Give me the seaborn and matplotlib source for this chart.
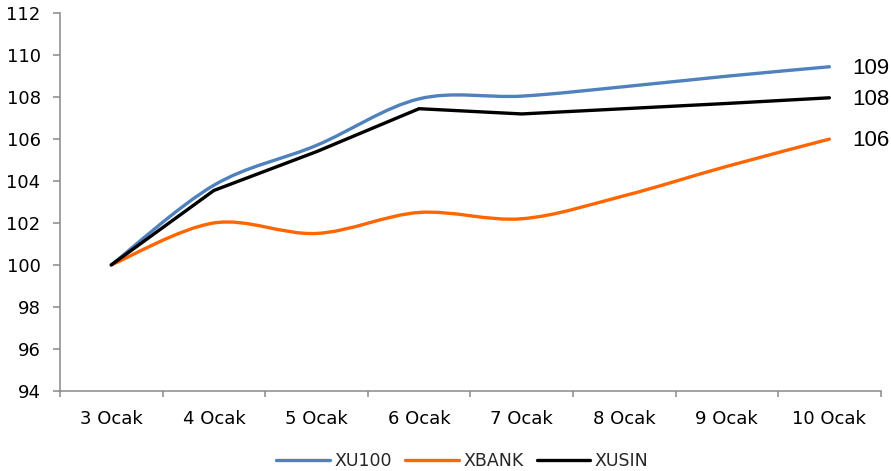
import numpy as np
import pandas as pd
import matplotlib
matplotlib.use("Agg")
import matplotlib.pyplot as plt
import seaborn as sns
from matplotlib.path import Path
from matplotlib.patches import PathPatch
from matplotlib.lines import Line2D

# ---- data ----
categories = ["3 Ocak", "4 Ocak", "5 Ocak", "6 Ocak", "7 Ocak", "8 Ocak", "9 Ocak", "10 Ocak"]
xu100 = [100.0, 103.8, 105.7, 107.92, 108.05, 108.5, 109.0, 109.45]
xbank = [100.0, 102.0, 101.5, 102.5, 102.2, 103.3, 104.7, 106.0]
xusin = [100.0, 103.55, 105.4, 107.45, 107.2, 107.45, 107.7, 107.97]
series_names = ["XU100", "XBANK", "XUSIN"]
y_ticks = [94, 96, 98, 100, 102, 104, 106, 108, 110, 112]

colors = {"XU100": "#4F81BD", "XBANK": "#FF6600", "XUSIN": "#000000"}
smoothed = {"XU100": True, "XBANK": True, "XUSIN": False}

sns.set_theme(style="white")
plt.rcParams['font.family'] = ['DejaVu Sans']

W, H = 891, 471
fig = plt.figure(figsize=(W / 100, H / 100), dpi=100)
ax = fig.add_axes([60 / W, 1 - 390.7 / H, (880.7 - 60) / W, (390.7 - 13.3) / H])

xpos = np.arange(len(categories))
df = pd.DataFrame({"x": xpos, "XU100": xu100, "XBANK": xbank, "XUSIN": xusin})
long = df.melt(id_vars="x", var_name="series", value_name="value")


def smooth_path(xs, ys):
    pts = np.column_stack([xs, ys]).astype(float)
    ext = np.vstack([pts[0], pts, pts[-1]])
    verts = [pts[0]]
    codes = [Path.MOVETO]
    for i in range(len(pts) - 1):
        p0, p1, p2, p3 = ext[i], ext[i + 1], ext[i + 2], ext[i + 3]
        c1 = p1 + (p2 - p0) / 6.0
        c2 = p2 - (p3 - p1) / 6.0
        verts += [c1, c2, p2]
        codes += [Path.CURVE4] * 3
    return Path(verts, codes)


LW = 2.4
for z, name in enumerate(series_names):
    sub = long[long["series"] == name]
    if smoothed[name]:
        patch = PathPatch(smooth_path(sub["x"].values, sub["value"].values),
                          facecolor="none", edgecolor=colors[name], lw=LW,
                          capstyle="round", joinstyle="round", zorder=3 + z)
        ax.add_patch(patch)
    else:
        sns.lineplot(data=sub, x="x", y="value", ax=ax, color=colors[name],
                     lw=LW, zorder=3 + z, legend=False)
        for ln in ax.lines:
            ln.set_solid_capstyle("round")
            ln.set_solid_joinstyle("miter")
    last = sub["value"].values[-1]
    ax.annotate(f"{last:.0f}", xy=(xpos[-1], last), xytext=(16.5, -1),
                textcoords="offset points", ha="left", va="center",
                fontsize=16, family=["Liberation Sans", "DejaVu Sans"],
                color="black", annotation_clip=False)

ax.set_xlim(-0.5, len(categories) - 0.5)
ax.set_ylim(94, 112)
ax.set_xlabel("")
ax.set_ylabel("")

ax.set_yticks(y_ticks)
ax.set_yticklabels([str(t) for t in y_ticks], fontsize=13, color="black")
ax.set_xticks(np.arange(-0.5, len(categories)), minor=False)
ax.set_xticklabels([])
ax.set_xticks(xpos, minor=True)
ax.set_xticklabels(categories, minor=True, fontsize=13, color="black")

spine_c = "#898989"
for s in ["top", "right"]:
    ax.spines[s].set_visible(False)
for s in ["left", "bottom"]:
    ax.spines[s].set_color(spine_c)
    ax.spines[s].set_linewidth(1.1)

ax.tick_params(axis="y", which="major", direction="out", length=5, width=1.1,
               color=spine_c, pad=9, left=True)
ax.tick_params(axis="x", which="major", direction="out", length=4.3, width=1.1,
               color=spine_c, bottom=True)
ax.tick_params(axis="x", which="minor", length=0, pad=14)
ax.grid(False)

handles = [Line2D([0], [0], color=colors[n], lw=LW, solid_capstyle="round") for n in series_names]
fig.legend(handles, series_names, loc="center", bbox_to_anchor=(0.519, 0.022),
           ncol=3, frameon=False, fontsize=12.5, handlelength=3.1,
           handletextpad=0.25, columnspacing=0.75, borderpad=0, borderaxespad=0)

fig.savefig("out.png", dpi=100)
